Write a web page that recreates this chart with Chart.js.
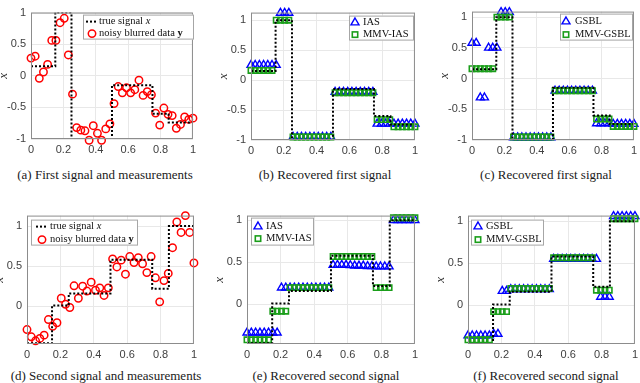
<!DOCTYPE html>
<html>
<head>
<meta charset="utf-8">
<script src="https://cdn.jsdelivr.net/npm/chart.js@4.4.1/dist/chart.umd.min.js"></script>
<style>
  body { margin: 0; background: #fff; width: 640px; height: 383px; overflow: hidden; position: relative; }
  canvas { position: absolute; }
  .cap { position: absolute; font: 13px "Liberation Serif", serif; color: #1a1a1a; white-space: nowrap; transform: translateX(-50%); }
</style>
</head>
<body>
<div class="cap" style="left:105px;top:167px">(a) First signal and measurements</div>
<div class="cap" style="left:325px;top:167px">(b) Recovered first signal</div>
<div class="cap" style="left:546px;top:167px">(c) Recovered first signal</div>
<div class="cap" style="left:106px;top:368px">(d) Second signal and measurements</div>
<div class="cap" style="left:326px;top:368px">(e) Recovered second signal</div>
<div class="cap" style="left:546px;top:368px">(f) Recovered second signal</div>
<script>
// sample grid (linspace(0,1,40)) and ticks
const grid = Array.from({ length: 40 }, (_, i) => i / 39);
const xTicks = [0, 0.2, 0.4, 0.6, 0.8, 1];
const yTicksTop = [-1, -0.5, 0, 0.5, 1];
const yTicksBottom = [0, 0.5, 1];

// true piecewise constant signals
const edges = [0, 0.15, 0.25, 0.5, 0.75, 0.85, 1];
const trueLevels1 = [0.15, 1, -1, -0.15, -0.6, -0.74];
const trueLevels2 = [-0.46, 0.01, 0.16, 0.58, 0.22, 1];

// first signal
const noisy1 = [0.28, 0.31, -0.04, 0.06, 0.18, 0.56, 0.56, 0.84, 0.91, 0.33,
  -0.29, -0.82, -0.86, -0.87, -1.02, -0.79, -0.91, -1.02, -0.84, -0.76,
  -0.44, -0.17, -0.27, -0.19, -0.27, -0.22, -0.07, -0.31, -0.25, -0.30,
  -0.59, -0.78, -0.51, -0.61, -0.63, -0.83, -0.77, -0.65, -0.69, -0.67];
const ias1 = [0.25, 0.25, 0.25, 0.25, 0.25, 0.25, 0.25, 1.12, 1.12, 1.12,
  -0.95, -0.95, -0.95, -0.95, -0.95, -0.95, -0.95, -0.95, -0.95, -0.95,
  -0.2, -0.2, -0.2, -0.2, -0.2, -0.2, -0.2, -0.2, -0.2, -0.2,
  -0.73, -0.73, -0.73, -0.73, -0.73, -0.73, -0.73, -0.73, -0.73, -0.73];
const mmvIas1 = [0.16, 0.16, 0.16, 0.16, 0.16, 0.16, 1, 1, 1, 1,
  -0.95, -0.95, -0.95, -0.95, -0.95, -0.95, -0.95, -0.95, -0.95, -0.95,
  -0.21, -0.21, -0.21, -0.21, -0.21, -0.21, -0.21, -0.21, -0.21, -0.21,
  -0.66, -0.66, -0.66, -0.66, -0.78, -0.78, -0.78, -0.78, -0.78, -0.78];
const gsbl1 = [0.58, 0.58, -0.31, -0.31, 0.5, 0.5, 0.5, 1.08, 1.08, 1.08,
  -0.96, -0.96, -0.96, -0.96, -0.96, -0.96, -0.96, -0.96, -0.96, -0.96,
  -0.2, -0.2, -0.2, -0.2, -0.2, -0.2, -0.2, -0.2, -0.2, -0.2,
  -0.73, -0.73, -0.73, -0.73, -0.74, -0.74, -0.74, -0.74, -0.74, -0.74];
const mmvGsbl1 = [0.16, 0.16, 0.16, 0.16, 0.16, 0.16, 1, 1, 1, 1,
  -0.95, -0.95, -0.95, -0.95, -0.95, -0.95, -0.95, -0.95, -0.95, -0.95,
  -0.2, -0.2, -0.2, -0.2, -0.2, -0.2, -0.2, -0.2, -0.2, -0.2,
  -0.66, -0.66, -0.66, -0.66, -0.78, -0.78, -0.78, -0.78, -0.78, -0.78];

// second signal
const noisy2 = [-0.29, -0.38, -0.43, -0.40, -0.36, -0.165, -0.25, -0.205, 0.10, 0.025,
  -0.015, 0.255, 0.10, 0.25, 0.19, 0.30, 0.20, 0.23, 0.135, 0.23,
  0.59, 0.49, 0.575, 0.40, 0.62, 0.545, 0.605, 0.53, 0.42, 0.62,
  0.355, 0.055, 0.32, 0.41, 0.73, 1.05, 0.92, 1.13, 0.92, 0.54];
const ias2 = [-0.335, -0.335, -0.335, -0.335, -0.335, -0.335, -0.335, -0.335, 0.2, 0.2,
  0.2, 0.2, 0.2, 0.2, 0.2, 0.2, 0.2, 0.2, 0.2, 0.2,
  0.47, 0.47, 0.47, 0.47, 0.465, 0.46, 0.46, 0.46, 0.455, 0.455,
  0.45, 0.45, 0.45, 0.45, 1, 1, 1, 1, 1, 1];
const mmvIas2 = [-0.42, -0.42, -0.42, -0.42, -0.42, -0.42, -0.08, -0.08, -0.08, -0.08,
  0.2, 0.2, 0.2, 0.2, 0.2, 0.2, 0.2, 0.2, 0.2, 0.2,
  0.57, 0.57, 0.57, 0.57, 0.57, 0.57, 0.57, 0.57, 0.57, 0.57,
  0.2, 0.2, 0.2, 0.2, 1.03, 1.03, 1.03, 1.03, 1.03, 1.03];
const gsbl2 = [-0.36, -0.36, -0.36, -0.36, -0.36, -0.36, -0.34, -0.34, 0.17, 0.17,
  0.19, 0.19, 0.19, 0.19, 0.19, 0.19, 0.19, 0.19, 0.19, 0.19,
  0.55, 0.55, 0.55, 0.55, 0.55, 0.55, 0.55, 0.55, 0.55, 0.55,
  0.55, 0.1, 0.1, 0.1, 1.06, 1.06, 1.06, 1.06, 1.06, 1.06];
const mmvGsbl2 = [-0.41, -0.41, -0.41, -0.41, -0.41, -0.41, -0.075, -0.075, -0.075, -0.075,
  0.2, 0.2, 0.2, 0.2, 0.2, 0.2, 0.2, 0.2, 0.2, 0.2,
  0.565, 0.565, 0.565, 0.565, 0.565, 0.565, 0.565, 0.565, 0.565, 0.565,
  0.18, 0.18, 0.18, 0.18, 1.03, 1.03, 1.03, 1.03, 1.03, 1.03];

const RED = '#ff0000', BLUE = '#0000ff', GREEN = '#1a9e1a';
const SERIF = '"Liberation Serif", serif';

const fmt = v => String(Math.round(v * 10) / 10);
const pts = ys => ys.map((y, i) => ({ x: grid[i], y }));
function stairs(levels) {
  const out = [];
  levels.forEach((lv, k) => { out.push({ x: edges[k], y: lv }, { x: edges[k + 1], y: lv }); });
  return out;
}

const trueLine = levels => ({
  data: stairs(levels), showLine: true, pointRadius: 0, borderColor: '#000',
  borderWidth: 2, borderDash: [2, 2], borderCapStyle: 'butt'
});
const circles = ys => ({
  data: pts(ys), pointStyle: 'circle', pointRadius: 3.7, borderColor: RED,
  backgroundColor: 'rgba(0,0,0,0)', pointBorderWidth: 1.5, clip: false
});
const triangles = ys => ({
  data: pts(ys), pointStyle: 'triangle', pointRadius: 4.6, borderColor: BLUE,
  backgroundColor: 'rgba(0,0,0,0)', pointBorderWidth: 1.4, clip: false
});
const squares = ys => ({
  data: pts(ys), pointStyle: 'rect', pointRadius: 3.8, borderColor: GREEN,
  backgroundColor: 'rgba(0,0,0,0)', pointBorderWidth: 1.6, clip: false
});

function drawSymbol(ctx, kind, x, y) {
  ctx.save();
  ctx.setLineDash([]);
  if (kind === 'line') {
    ctx.strokeStyle = '#000'; ctx.lineWidth = 2; ctx.setLineDash([2, 2]);
    ctx.beginPath(); ctx.moveTo(x - 6, y); ctx.lineTo(x + 6, y); ctx.stroke();
  } else if (kind === 'circle') {
    ctx.strokeStyle = RED; ctx.lineWidth = 1.5;
    ctx.beginPath(); ctx.arc(x, y, 3.7, 0, Math.PI * 2); ctx.stroke();
  } else if (kind === 'triangle') {
    ctx.strokeStyle = BLUE; ctx.lineWidth = 1.4;
    ctx.beginPath(); ctx.moveTo(x, y - 4.6); ctx.lineTo(x + 4, y + 2.3); ctx.lineTo(x - 4, y + 2.3);
    ctx.closePath(); ctx.stroke();
  } else if (kind === 'square') {
    ctx.strokeStyle = GREEN; ctx.lineWidth = 1.6;
    ctx.strokeRect(x - 2.7, y - 2.7, 5.4, 5.4);
  }
  ctx.restore();
}

const boxPlugin = {
  id: 'matBox',
  afterDraw(chart, args, opts) {
    const { ctx, chartArea: a } = chart;
    ctx.save();
    ctx.strokeStyle = '#8c8c8c';
    ctx.lineWidth = 1;
    ctx.strokeRect(a.left + 0.5, a.top + 0.5, a.right - a.left - 1, a.bottom - a.top - 1);
    // y label
    ctx.save();
    ctx.translate(a.left - 27, (a.top + a.bottom) / 2);
    ctx.rotate(-Math.PI / 2);
    ctx.font = 'italic 13px ' + SERIF;
    ctx.fillStyle = '#333';
    ctx.textAlign = 'center';
    ctx.textBaseline = 'middle';
    ctx.fillText('x', 0, 0);
    ctx.restore();
    // legend
    const lg = opts.legend;
    if (lg) {
      const bx = a.left + lg.x, by = a.top + lg.y;
      ctx.fillStyle = '#fff';
      ctx.fillRect(bx, by, lg.w, lg.h);
      ctx.strokeStyle = '#a6a6a6';
      ctx.strokeRect(bx + 0.5, by + 0.5, lg.w - 1, lg.h - 1);
      lg.rows.forEach((row, k) => {
        const ry = by + lg.rowY[k];
        drawSymbol(ctx, row.kind, bx + lg.symX, ry);
        let tx = bx + lg.textX;
        ctx.fillStyle = '#111';
        ctx.textBaseline = 'middle';
        ctx.textAlign = 'left';
        row.parts.forEach(([t, style]) => {
          ctx.font = (style || '') + ' 10.5px ' + SERIF;
          ctx.fillText(t, tx, ry);
          tx += ctx.measureText(t).width;
        });
      });
    }
    ctx.restore();
  }
};

function makePanel(rect, yMin, yMax, yTicks, datasets, legend) {
  const padL = 36, padR = 6, padT = 4, padB = 20;
  const cv = document.createElement('canvas');
  const w = rect.R - rect.L + padL + padR, h = rect.B - rect.T + padT + padB;
  cv.width = w; cv.height = h;
  cv.style.left = (rect.L - padL) + 'px';
  cv.style.top = (rect.T - padT) + 'px';
  cv.style.width = w + 'px'; cv.style.height = h + 'px';
  document.body.appendChild(cv);
  const tickFont = { family: '"Liberation Sans", Arial, sans-serif', size: 11 };
  return new Chart(cv, {
    type: 'scatter',
    data: { datasets },
    options: {
      responsive: false, animation: false, devicePixelRatio: 1,
      layout: { padding: { left: 0, right: padR, top: padT, bottom: 0 } },
      plugins: { legend: { display: false }, tooltip: { enabled: false }, matBox: { legend } },
      scales: {
        x: {
          type: 'linear', min: 0, max: 1,
          afterBuildTicks: s => { s.ticks = xTicks.map(v => ({ value: v })); },
          afterFit: s => { s.height = padB; },
          grid: { color: '#e8e8e8', drawTicks: false },
          border: { display: false },
          ticks: { callback: fmt, padding: 4, color: '#404040', font: tickFont, maxRotation: 0, autoSkip: false }
        },
        y: {
          type: 'linear', min: yMin, max: yMax,
          afterBuildTicks: s => { s.ticks = yTicks.map(v => ({ value: v })); },
          afterFit: s => { s.width = padL; },
          grid: { color: '#e8e8e8', drawTicks: false },
          border: { display: false },
          ticks: { callback: fmt, padding: 5, color: '#404040', font: tickFont, autoSkip: false }
        }
      }
    },
    plugins: [boxPlugin]
  });
}

const rowsData = [
  { kind: 'line', parts: [['true signal '], ['x', 'italic']] },
  { kind: 'circle', parts: [['noisy blurred data '], ['y', 'bold']] }
];

// (a)
makePanel({ L: 31, T: 5, R: 194, B: 139 }, -1, 1, yTicksTop,
  [trueLine(trueLevels1), circles(noisy1)],
  { x: 52, y: 2, w: 111, h: 25, symX: 9, textX: 16, rowY: [7, 19], rows: rowsData });
// (b)
makePanel({ L: 251, T: 5, R: 416, B: 140 }, -1, 1.126, yTicksTop,
  [trueLine(trueLevels1), squares(mmvIas1), triangles(ias1)],
  { x: 98, y: 3, w: 65, h: 25, symX: 6, textX: 14, rowY: [7, 19],
    rows: [{ kind: 'triangle', parts: [['IAS']] }, { kind: 'square', parts: [['MMV-IAS']] }] });
// (c)
makePanel({ L: 472, T: 4, R: 635, B: 140 }, -1, 1.09, yTicksTop,
  [trueLine(trueLevels1), squares(mmvGsbl1), triangles(gsbl1)],
  { x: 88, y: 2, w: 73, h: 27, symX: 6, textX: 15, rowY: [8, 21],
    rows: [{ kind: 'triangle', parts: [['GSBL']] }, { kind: 'square', parts: [['MMV-GSBL']] }] });
// (d)
makePanel({ L: 27, T: 208, R: 195, B: 344 }, -0.47, 1.13, yTicksBottom,
  [trueLine(trueLevels2), circles(noisy2)],
  { x: 4, y: 4, w: 107, h: 26, symX: 11, textX: 19, rowY: [7, 20], rows: rowsData });
// (e)
makePanel({ L: 247, T: 208, R: 416, B: 344 }, -0.47, 1.056, yTicksBottom,
  [trueLine(trueLevels2), squares(mmvIas2), triangles(ias2)],
  { x: 4, y: 2, w: 63, h: 28, symX: 7, textX: 15, rowY: [9, 21],
    rows: [{ kind: 'triangle', parts: [['IAS']] }, { kind: 'square', parts: [['MMV-IAS']] }] });
// (f)
makePanel({ L: 468, T: 208, R: 636, B: 344 }, -0.46, 1.067, yTicksBottom,
  [trueLine(trueLevels2), squares(mmvGsbl2), triangles(gsbl2)],
  { x: 3, y: 4, w: 73, h: 26, symX: 7, textX: 15, rowY: [7, 20],
    rows: [{ kind: 'triangle', parts: [['GSBL']] }, { kind: 'square', parts: [['MMV-GSBL']] }] });
</script>
</body>
</html>
